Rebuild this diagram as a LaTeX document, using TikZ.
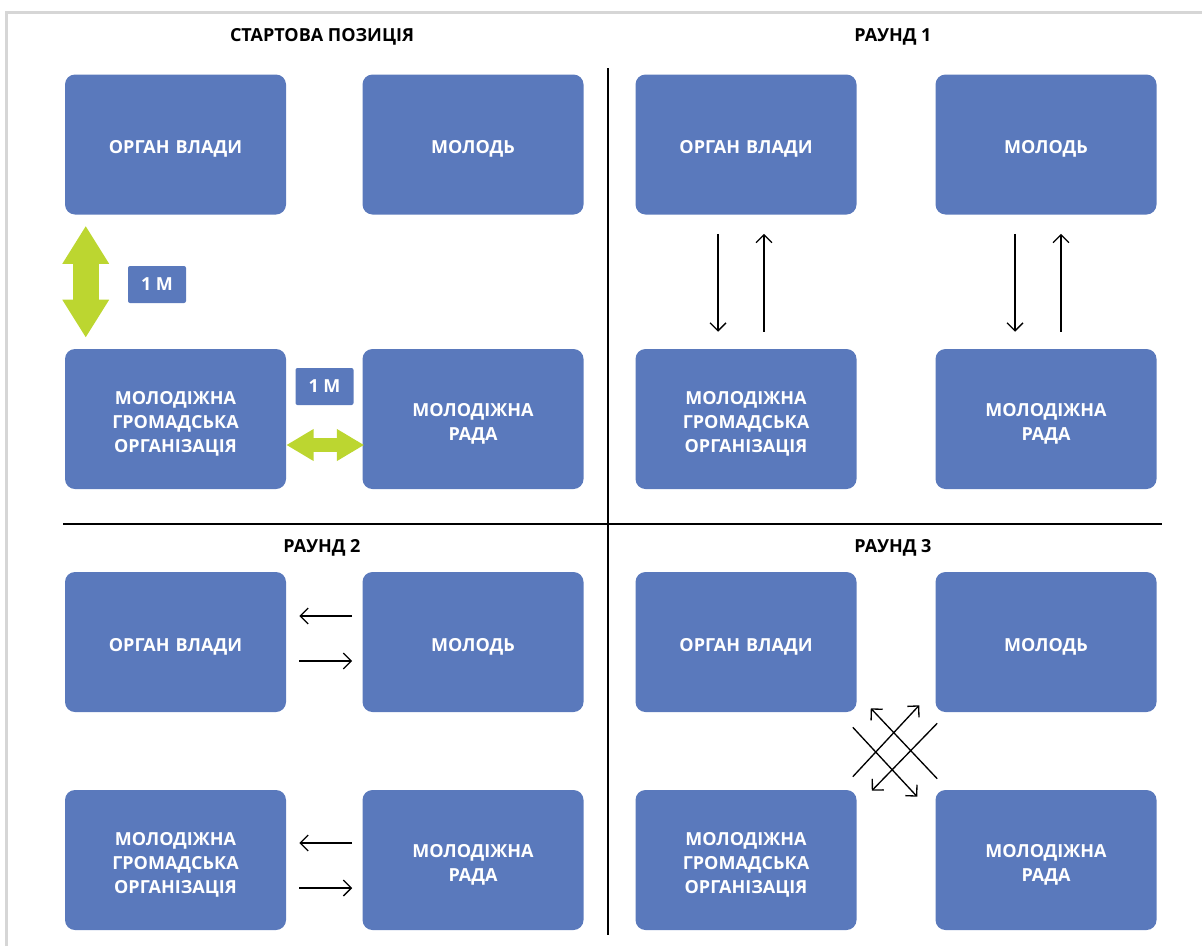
\documentclass[tikz,border=0pt]{standalone}
\usepackage{fontspec}
\setmainfont{Open Sans}
\usetikzlibrary{arrows.meta,calc}
\definecolor{boxblue}{HTML}{5A79BC}
\definecolor{lime}{HTML}{BCD630}
\definecolor{framegray}{HTML}{D6D6D6}
\tikzset{
  box/.style={draw=none,fill=boxblue,rounded corners=7.5pt,minimum width=165.75pt,minimum height=105pt,inner sep=0pt},
  boxtext/.style={text width=150pt,align=center,text=white,font=\fontsize{13.5pt}{18pt}\selectfont\bfseries,inner sep=0pt},
  mtag/.style={fill=boxblue,rounded corners=1.5pt,minimum width=43.5pt,minimum height=27.75pt,inner sep=0pt,
    text=white,font=\fontsize{13.5pt}{18pt}\selectfont\bfseries},
  ttl/.style={font=\fontsize{13.5pt}{16pt}\selectfont\bfseries,text=black,inner sep=0pt},
  divider/.style={line width=1.5pt,black},
  thin/.style={line width=1pt,black,-{Straight Barb[length=6pt,width=12pt]}},
  vgreen/.style={line width=19.5pt,lime,{Triangle[length=28.5pt,width=33pt]}-{Triangle[length=28.5pt,width=33pt]}},
  hgreen/.style={line width=10pt,lime,{Triangle[length=20.5pt,width=22.5pt]}-{Triangle[length=20.5pt,width=22.5pt]}},
}
\newcommand\mybox[3]{\node[box] (#1) at (#2) {};
  \node[boxtext] (#1t) at ([yshift=-3.5pt]#1.center) {#3};}
\begin{document}
\begin{tikzpicture}[x=0.75pt,y=-0.75pt]
\useasboundingbox (0,0) rectangle (1202,946);
\draw[framegray,line width=2pt] (6.5,946) -- (6.5,12.5) -- (1202,12.5);
% titles
\node[ttl] (t0) at (322,37) {СТАРТОВА ПОЗИЦІЯ};
\node[ttl] (t1) at (893,37) {РАУНД 1};
\node[ttl] (t2) at (322,548) {РАУНД 2};
\node[ttl] (t3) at (893,548) {РАУНД 3};
% dividers
\coordinate (vtop) at (608,68);
\coordinate (vbot) at (608,935);
\coordinate (hl) at (63,524);
\coordinate (hr) at (1162,524);
\draw[divider] (vtop) -- (vbot);
\draw[divider] (hl) -- (hr);
% start
\mybox{a1}{175.5,144.5}{ОРГАН ВЛАДИ}
\mybox{a2}{473,144.5}{МОЛОДЬ}
\mybox{a3}{175.5,419}{МОЛОДІЖНА\\ГРОМАДСЬКА\\ОРГАНІЗАЦІЯ}
\mybox{a4}{473,419}{МОЛОДІЖНА\\РАДА}
% round 1
\mybox{b1}{746,144.5}{ОРГАН ВЛАДИ}
\mybox{b2}{1046,144.5}{МОЛОДЬ}
\mybox{b3}{746,419}{МОЛОДІЖНА\\ГРОМАДСЬКА\\ОРГАНІЗАЦІЯ}
\mybox{b4}{1046,419}{МОЛОДІЖНА\\РАДА}
% round 2
\mybox{c1}{175.5,642}{ОРГАН ВЛАДИ}
\mybox{c2}{473,642}{МОЛОДЬ}
\mybox{c3}{175.5,860}{МОЛОДІЖНА\\ГРОМАДСЬКА\\ОРГАНІЗАЦІЯ}
\mybox{c4}{473,860}{МОЛОДІЖНА\\РАДА}
% round 3
\mybox{d1}{746,642}{ОРГАН ВЛАДИ}
\mybox{d2}{1046,642}{МОЛОДЬ}
\mybox{d3}{746,860}{МОЛОДІЖНА\\ГРОМАДСЬКА\\ОРГАНІЗАЦІЯ}
\mybox{d4}{1046,860}{МОЛОДІЖНА\\РАДА}
% start: green arrows and tags
\draw[vgreen] ($(a1.south west)+(21,11)$) -- ($(a3.north west)+(21,-11)$);
\draw[hgreen] ($(a3.east)+(0,26)$) -- ($(a4.west)+(2,26)$);
\node[mtag] (m1) at (157,284.5) {1 М};
\node[mtag] (m2) at (324.5,386.5) {1 М};
% round 1 arrows
\draw[thin] ($(b1.south)+(-28,19)$) -- ($(b3.north)+(-28,-17)$);
\draw[thin] ($(b3.north)+(18,-17)$) -- ($(b1.south)+(18,19)$);
\draw[thin] ($(b2.south)+(-31,19)$) -- ($(b4.north)+(-31,-17)$);
\draw[thin] ($(b4.north)+(15,-17)$) -- ($(b2.south)+(15,19)$);
% round 2 arrows
\draw[thin] ($(c2.west)+(-10,-26)$) -- ($(c1.east)+(13,-26)$);
\draw[thin] ($(c1.east)+(13,19)$) -- ($(c2.west)+(-10,19)$);
\draw[thin] ($(c4.west)+(-10,-17)$) -- ($(c3.east)+(13,-17)$);
\draw[thin] ($(c3.east)+(13,28)$) -- ($(c4.west)+(-10,28)$);
% round 3 crossing arrows
\draw[thin] ($(d4.north west)+(2,-11)$) -- ($(d1.south east)+(14,-4)$);
\draw[thin] ($(d1.south east)+(-4,15)$) -- ($(d4.north west)+(-18,7)$);
\draw[thin] ($(d3.north east)+(-4,-13)$) -- ($(d2.south west)+(-16,-7)$);
\draw[thin] ($(d2.south west)+(2,11)$) -- ($(d3.north east)+(15,1)$);
\end{tikzpicture}
\end{document}
